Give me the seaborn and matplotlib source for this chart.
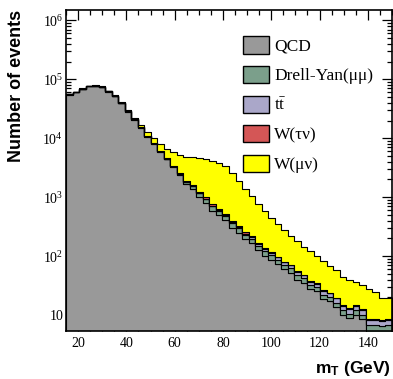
import numpy as np
import pandas as pd
import matplotlib
matplotlib.use("Agg")
import matplotlib.pyplot as plt
import seaborn as sns
from matplotlib.patches import Rectangle
from matplotlib.ticker import MultipleLocator, LogLocator, FuncFormatter, NullFormatter

# ---------------- data (events per 2.7 GeV bin, 15-150 GeV) ----------------
x_min, x_max, n_bins = 15.0, 150.0, 50

qcd = [54600, 60000, 68400, 76300, 77300, 74300, 61300, 52000, 39000, 28200,
       20400, 14800, 10700, 7940, 5890, 4370, 3240, 2400, 1660, 1365,
       1000, 794, 589, 507, 417, 302, 245, 195, 166, 126,
       100, 87, 74, 60, 52.5, 40, 35, 27.5, 25.7, 18.6,
       17, 13.8, 10.2, 8.9, 10.2, 8.7, 4, 4, 4, 4]
drell_yan = [800, 850, 900, 950, 950, 900, 850, 800, 750, 700,
             600, 450, 320, 240, 180, 140, 110, 110, 150, 185,
             175, 139, 119, 82, 62, 61, 57, 34, 29, 25,
             20, 18, 13, 11, 10.5, 8, 7, 4.9, 4.5, 3.3,
             3, 2.4, 1.8, 1.6, 1.8, 1.5, 2.8, 2.8, 2.6, 2.8]
ttbar = [8, 8, 9, 9, 10, 10, 11, 11, 12, 12,
         12, 13, 13, 13, 13, 14, 14, 14, 14, 14,
         14, 14, 14, 13, 13, 13, 12, 12, 12, 11,
         10, 9, 8, 7, 6.5, 5.5, 5, 4, 4, 3.5,
         3.2, 3, 2.5, 2.3, 2.5, 2.2, 1.3, 1.3, 1.2, 1.3]
w_taunu = [30, 32, 34, 36, 38, 40, 42, 44, 46, 48,
           50, 52, 54, 56, 58, 60, 60, 60, 58, 56,
           52, 48, 42, 36, 28, 20, 15, 12, 9, 7,
           5, 4, 3, 2.5, 2, 1.6, 1.3, 1.1, 0.9, 0.8,
           0.7, 0.6, 0.5, 0.45, 0.4, 0.35, 0.35, 0.4, 0.4, 0.4]
w_munu = [530, 580, 620, 670, 700, 750, 800, 850, 900, 1180,
          1270, 1390, 1590, 1680, 1920, 2110, 2400, 2600, 2950, 3210,
          3470, 3400, 3340, 3140, 2810, 2180, 1580, 1130, 850, 605,
          438, 326, 255, 194, 152, 122, 94, 85, 67, 56,
          45, 38, 30, 26, 21, 19, 19, 16, 11, 11]

legend_order = ["QCD", "Drell-Yan(μμ)", r"$\mathrm{t\bar{t}}$", "W(τν)", "W(μν)"]
colors = {"QCD": "#999999", "Drell-Yan(μμ)": "#7b9f8b",
          r"$\mathrm{t\bar{t}}$": "#aaa7c9", "W(τν)": "#d45656", "W(μν)": "#ffff00"}
series = {"QCD": qcd, "Drell-Yan(μμ)": drell_yan, r"$\mathrm{t\bar{t}}$": ttbar,
          "W(τν)": w_taunu, "W(μν)": w_munu}

edges = np.linspace(x_min, x_max, n_bins + 1)
centers = 0.5 * (edges[:-1] + edges[1:])

# seaborn stacks the last hue level at the bottom
stack_order = legend_order[::-1]
df = pd.DataFrame({
    "mT": np.tile(centers, len(stack_order)),
    "events": np.concatenate([np.asarray(series[k], float) for k in stack_order]),
    "process": np.repeat(stack_order, n_bins),
})

# ---------------- style ----------------
sns.set_style("ticks")
plt.rcParams["font.family"] = ["Liberation Serif", "DejaVu Serif"]
plt.rcParams["mathtext.fontset"] = "custom"
plt.rcParams["mathtext.rm"] = "Liberation Serif"
plt.rcParams["mathtext.it"] = "Liberation Serif:italic"
plt.rcParams["mathtext.bf"] = "Liberation Sans:bold"
plt.rcParams["text.color"] = "black"
plt.rcParams["axes.labelcolor"] = "black"
plt.rcParams["xtick.color"] = "black"
plt.rcParams["ytick.color"] = "black"

fig = plt.figure(figsize=(3.93, 3.79), dpi=100)
ax = fig.add_axes([66 / 393, 48 / 379, 326 / 393, 321 / 379])

sns.histplot(data=df, x="mT", weights="events", hue="process", hue_order=stack_order,
             multiple="stack", bins=edges.tolist(), element="step", fill=True,
             palette=colors, edgecolor="black", linewidth=0.8, alpha=1,
             legend=False, ax=ax)

ax.set_yscale("log")
ax.set_xlim(x_min, x_max)
ax.set_ylim(5.36, 1.5e6)

ax.xaxis.set_major_locator(MultipleLocator(20))
ax.xaxis.set_minor_locator(MultipleLocator(5))
ax.yaxis.set_major_locator(LogLocator(base=10, numticks=10))
ax.yaxis.set_minor_locator(LogLocator(base=10, subs=np.arange(2, 10), numticks=20))
ax.yaxis.set_minor_formatter(NullFormatter())


def yfmt(v, pos):
    e = int(round(np.log10(v)))
    return "10" if e == 1 else r"$10^{%d}$" % e


ax.yaxis.set_major_formatter(FuncFormatter(yfmt))
ax.xaxis.set_major_formatter(FuncFormatter(lambda v, p: "%d" % v))

ax.tick_params(which="both", direction="in", top=True, right=True, labelsize=10,
               width=0.9, color="black", labelcolor="black")
ax.tick_params(which="major", length=7)
ax.tick_params(which="minor", length=3.6)
ax.tick_params(axis="x", pad=4)
ax.tick_params(axis="y", pad=2)
for s in ax.spines.values():
    s.set_linewidth(1.2)
    s.set_color("black")

ax.set_xlabel(r"$\mathbf{m_{T}}$ (GeV)", family="Liberation Sans", fontweight="bold",
              fontsize=12.5, loc="right", color="black")
ax.xaxis.set_label_coords(0.995, -0.088)
ax.set_ylabel("Number of events", family="Liberation Sans", fontweight="bold",
              fontsize=13, loc="top", color="black")
ax.yaxis.set_label_coords(-0.125, 1.0)

handles = [Rectangle((0, 0), 1, 1, facecolor=colors[k], edgecolor="black", linewidth=1.0)
           for k in legend_order]
leg = ax.legend(handles, legend_order, loc="upper left", bbox_to_anchor=(0.543, 0.918),
                frameon=False, fontsize=12.5, handlelength=1.5, handleheight=1.15,
                labelspacing=0.64, handletextpad=0.3, borderpad=0, borderaxespad=0)
for t in leg.get_texts():
    t.set_color("black")

fig.savefig("out.png", dpi=100)
